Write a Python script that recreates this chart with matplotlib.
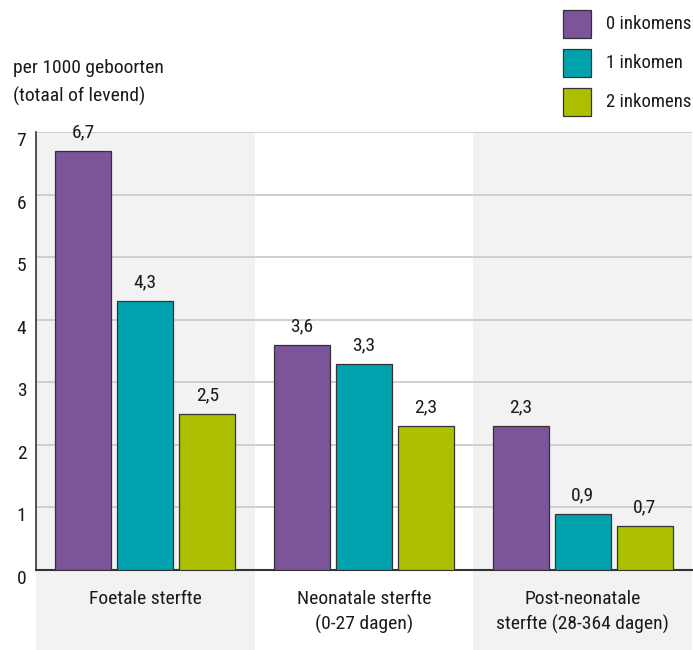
import matplotlib
matplotlib.use("Agg")
import matplotlib.pyplot as plt
from matplotlib.patches import Rectangle
from matplotlib import font_manager
import numpy as np

# choose a condensed font if available
_fonts = font_manager.fontManager.ttflist
_names = {f.name for f in _fonts}
family = None
stretch = "normal"
for cand in ["Liberation Sans Narrow", "Roboto Condensed", "Open Sans Condensed", "Noto Sans Condensed",
             "DejaVu Sans Condensed", "Arial Narrow"]:
    if cand in _names:
        family = cand
        break
if family is None:
    for base in ["Noto Sans", "Open Sans", "Roboto", "DejaVu Sans"]:
        cond = [f for f in _fonts if f.name == base and str(f.stretch) in ("condensed", "semi-condensed", "extra-condensed", "75", "87.5", "62.5")]
        if cond:
            family = base
            stretch = cond[0].stretch
            break
if family is None:
    family = "Liberation Sans"
plt.rcParams['font.family'] = [family, 'DejaVu Sans']
plt.rcParams['font.stretch'] = stretch

categories = ["Foetale sterfte", "Neonatale sterfte\n(0-27 dagen)", "Post-neonatale\nsterfte (28-364 dagen)"]
series_names = ["0 inkomens", "1 inkomen", "2 inkomens"]
values = {
    "0 inkomens": [6.7, 3.6, 2.3],
    "1 inkomen": [4.3, 3.3, 0.9],
    "2 inkomens": [2.5, 2.3, 0.7],
}
colors = ["#7b5499", "#00a3ad", "#adc000"]
yticks = [0, 1, 2, 3, 4, 5, 6, 7]

FS = 14
fig = plt.figure(figsize=(6.93, 6.5), dpi=100)
ax = fig.add_axes([36/693, 80/650, 656/693, 438/650])

x = np.arange(len(categories))
bw = 0.256
step = 0.284

for i in [0, 2]:
    r = Rectangle((i - 0.5, -1.28), 1.0, 7 + 1.28, facecolor="#f2f2f2",
                  edgecolor="none", clip_on=False, zorder=0, transform=ax.transData)
    ax.add_patch(r)

for v in yticks[1:]:
    ax.axhline(v, color="#c8c8c8", lw=1.2, zorder=1)

for j, name in enumerate(series_names):
    xs = x + (j - 1) * step
    ax.bar(xs, values[name], width=bw, color=colors[j], edgecolor="#333333",
           linewidth=0.9, zorder=3)
    for xi, vi in zip(xs, values[name]):
        ax.text(xi, vi + 0.15, f"{vi:.1f}".replace(".", ","), ha="center", va="bottom",
                fontsize=FS, color="#1a1a1a", zorder=4)

ax.set_xlim(-0.5, 2.5)
ax.set_ylim(0, 7)
ax.set_yticks(yticks)
ax.set_yticklabels([str(t) for t in yticks], fontsize=FS, color="#1a1a1a", va="top")
ax.tick_params(axis='y', length=0, pad=7)
ax.tick_params(axis='x', length=0)
ax.set_xticks([])
for s in ["top", "right"]:
    ax.spines[s].set_visible(False)
ax.spines["left"].set_color("#333333")
ax.spines["bottom"].set_color("#333333")
ax.spines["left"].set_linewidth(1.2)
ax.spines["bottom"].set_linewidth(1.5)
ax.patch.set_alpha(0)

for i, c in enumerate(categories):
    ax.text(i, -0.32, c, ha="center", va="top", fontsize=FS, color="#1a1a1a",
            linespacing=1.45)

fig.text(13/693, 1 - 68/650, "per 1000 geboorten", fontsize=FS, va="center", ha="left", color="#1a1a1a")
fig.text(13/693, 1 - 96/650, "(totaal of levend)", fontsize=FS, va="center", ha="left", color="#1a1a1a")

for j, name in enumerate(series_names):
    y0 = 10 + j * 39
    fig.patches.append(Rectangle((563/693, 1 - (y0 + 28)/650), 28/693, 28/650,
                                 facecolor=colors[j], edgecolor="#333333", lw=0.9,
                                 transform=fig.transFigure, figure=fig))
    fig.text(606/693, 1 - (y0 + 14)/650, name, fontsize=13.5, va="center", ha="left", color="#1a1a1a")

fig.savefig("out.png", dpi=100)
